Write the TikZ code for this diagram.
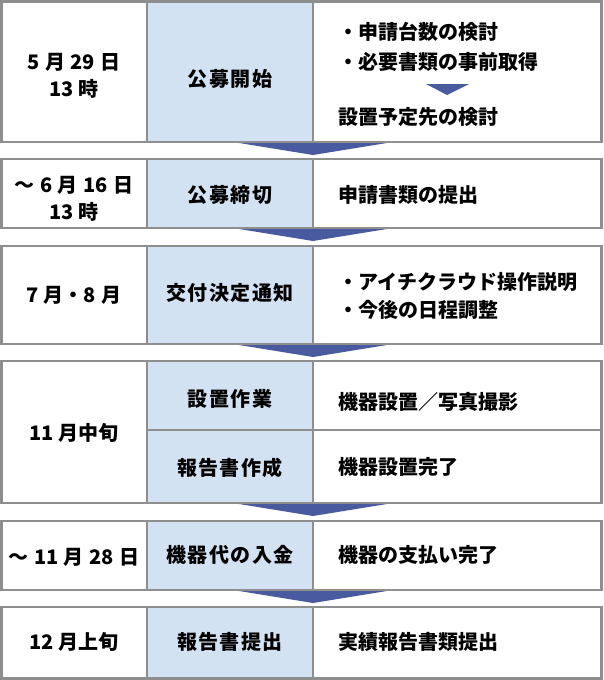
\documentclass[tikz,border=0pt]{standalone}
\usepackage{fontspec}
\setmainfont{Noto Sans CJK JP}
\newfontfamily\midfont{Noto Sans CJK JP}[LetterSpace=7]
\newcommand\tsp{\hspace{0.28em}}
\definecolor{rulegray}{HTML}{8E8E8E}
\definecolor{cellblue}{HTML}{D3E2F2}
\definecolor{flowblue}{HTML}{4A5A9E}
\tikzset{
  rowbox/.style={draw=rulegray, line width=2.5pt},
  colline/.style={draw=rulegray, line width=2pt},
  when/.style={font=\bfseries\fontsize{20}{24}\selectfont, inner sep=0pt},
  what/.style={font=\midfont\bfseries\fontsize{20}{24}\selectfont, inner sep=0pt},
  todo/.style={font=\bfseries\fontsize{20}{24}\selectfont, inner sep=0pt, anchor=west},
}
\begin{document}
\begin{tikzpicture}[x=1pt,y=-1pt]
  \useasboundingbox (0,0) rectangle (603,680);
  \fill[white] (0,0) rectangle (603,680);
  \foreach \b in {142,228,344,503,590}
    \fill[flowblue] (233,\b) -- (393,\b) -- (313,{\b+13}) -- cycle;
  \foreach \t/\b in {1.5/142,159/228,246/344,361/503,521/590,607/678.5} {
    \fill[cellblue] (147,\t) rectangle (313,\b);
    \draw[rowbox] (1.5,\t) rectangle (601.5,\b);
    \draw[colline] (147,\t) -- (147,\b) (313,\t) -- (313,\b);
  }
  \draw[colline] (147,430) -- (601.5,430);
  \fill[flowblue] (426,84) -- (469,84) -- (447,95) -- cycle;
  \draw
    (74,62) node[when] (d1a) {5\tsp{}月\tsp{}29\tsp{}日}
    (74,89) node[when] (d1b) {13\tsp{}時}
    (74,185) node[when] (d2a) {〜\tsp{}6\tsp{}月\tsp{}16\tsp{}日}
    (74,212) node[when] (d2b) {13\tsp{}時}
    (74,295) node[when] (d3) {7\tsp{}月・8\tsp{}月}
    (74,433) node[when] (d4) {11\tsp{}月中旬}
    (74,557) node[when] (d5) {〜\tsp{}11\tsp{}月\tsp{}28\tsp{}日}
    (74,642) node[when] (d6) {12\tsp{}月上旬};
  \draw
    (230,79) node[what] (w1) {公募開始}
    (230,195) node[what] (w2) {公募締切}
    (230,293) node[what] (w3) {交付決定通知}
    (230,399) node[what] (w4a) {設置作業}
    (230,468) node[what] (w4b) {報告書作成}
    (230,555) node[what] (w5) {機器代の入金}
    (230,642) node[what] (w6) {報告書提出};
  \draw
    (338,32) node[todo] (n1a) {・申請台数の検討}
    (338,62) node[todo] (n1b) {・必要書類の事前取得}
    (338,117) node[todo] (n1c) {設置予定先の検討}
    (338,195) node[todo] (n2) {申請書類の提出}
    (338,282) node[todo] (n3a) {・アイチクラウド操作説明}
    (338,310) node[todo] (n3b) {・今後の日程調整}
    (338,402) node[todo] (n4a) {機器設置／写真撮影}
    (338,467) node[todo] (n4b) {機器設置完了}
    (338,555) node[todo] (n5) {機器の支払い完了}
    (338,642) node[todo] (n6) {実績報告書類提出};
\end{tikzpicture}
\end{document}
